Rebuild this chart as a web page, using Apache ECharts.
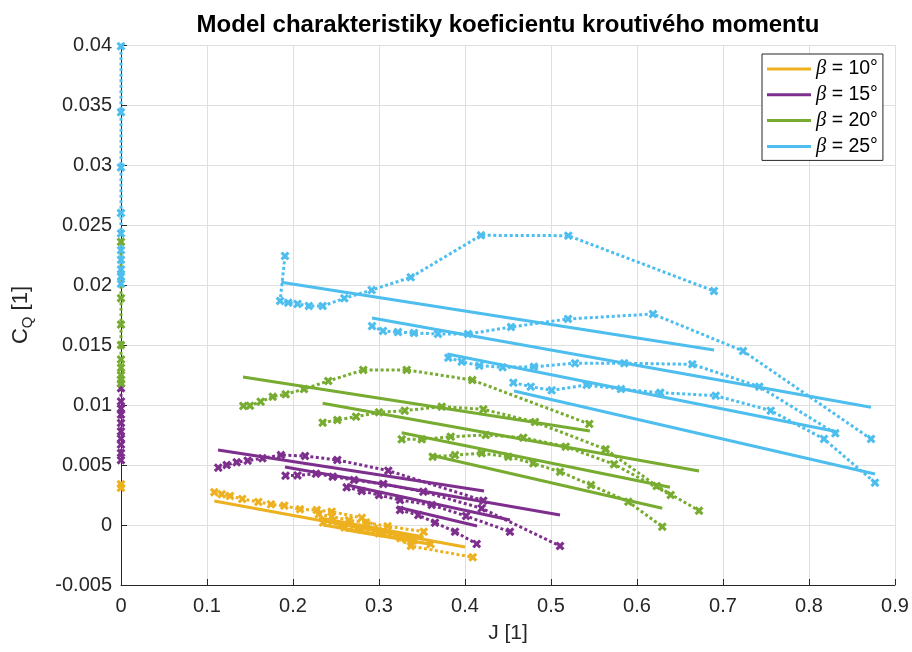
<!DOCTYPE html>
<html><head><meta charset="utf-8">
<script src="https://cdn.jsdelivr.net/npm/echarts@6/dist/echarts.min.js"></script>
<style>html,body{margin:0;padding:0;background:#fff}#c{width:912px;height:652px}</style>
</head><body><div id="c"></div>
<script>
const chartTitle = 'Model charakteristiky koeficientu kroutivého momentu';
const betaLabels = ['β = 10°', 'β = 15°', 'β = 20°', 'β = 25°'];
const betaColors = ['#EDB120', '#7E2F8E', '#77AC30', '#4DBEEE'];
const xTickValues = [0, 0.1, 0.2, 0.3, 0.4, 0.5, 0.6, 0.7, 0.8, 0.9];
const yTickValues = [-0.005, 0, 0.005, 0.01, 0.015, 0.02, 0.025, 0.03, 0.035, 0.04];

// static points (J = 0)
const static10 = [0.0034, 0.0031];
const static15 = [0.0114, 0.0103, 0.0097, 0.0092, 0.0085, 0.0078, 0.0072, 0.0067, 0.0060, 0.0054];
const static20 = [0.0236, 0.0189, 0.0167, 0.0150, 0.0138, 0.0131, 0.0125, 0.0121, 0.0118];
const static25 = [0.0399, 0.0344, 0.0298, 0.0260, 0.0243, 0.0229, 0.0221, 0.0213, 0.0207, 0.0201];

// beta = 10 measurements [J, CQ]
const m10a = [[0.1085,0.00273],[0.1171,0.00256],[0.1267,0.00242],[0.1410,0.00217],[0.1597,0.00192],[0.1744,0.00172],[0.1899,0.00161],[0.2081,0.00131],[0.2276,0.00125],[0.2450,0.00111],[0.2800,0.00060],[0.3370,-0.00175],[0.4090,-0.00269]];
const m10b = [[0.2300,0.00090],[0.2450,0.00070],[0.2650,0.00040],[0.2850,0.00020],[0.3100,-0.00010],[0.3520,-0.00056]];
const m10c = [[0.2350,0.00020],[0.2550,0.00000],[0.2750,-0.00020],[0.3000,-0.00060],[0.3400,-0.00130]];
const m10d = [[0.2600,-0.00020],[0.2800,-0.00040],[0.3000,-0.00070],[0.3250,-0.00110],[0.3600,-0.00160]];
// beta = 10 fits
const f10a = [[0.1085,0.00200],[0.4000,-0.00183]];
const f10b = [[0.2300,0.00060],[0.3520,-0.00100]];
const f10c = [[0.2350,0.00000],[0.3400,-0.00130]];
const f10d = [[0.2600,-0.00040],[0.3600,-0.00160]];

// beta = 15 measurements
const m15a = [[0.1131,0.00478],[0.1229,0.00500],[0.1345,0.00523],[0.1473,0.00536],[0.1645,0.00556],[0.1860,0.00583],[0.2140,0.00575],[0.2515,0.00542],[0.3108,0.00453],[0.4213,0.00203]];
const m15b = [[0.1913,0.00411],[0.2052,0.00413],[0.2267,0.00428],[0.2462,0.00403],[0.2709,0.00375],[0.3050,0.00342],[0.3515,0.00278],[0.4194,0.00139],[0.5105,-0.00175]];
const m15c = [[0.2624,0.00314],[0.2799,0.00283],[0.3000,0.00250],[0.3244,0.00208],[0.3613,0.00167],[0.4012,0.00075],[0.4523,-0.00056]];
const m15d = [[0.3244,0.00125],[0.3457,0.00083],[0.3651,0.00019],[0.3884,-0.00056],[0.4136,-0.00158]];
const f15a = [[0.1128,0.00625],[0.4221,0.00283]];
const f15b = [[0.1907,0.00483],[0.5105,0.00083]];
const f15c = [[0.2628,0.00333],[0.4523,0.00042]];
const f15d = [[0.3209,0.00150],[0.4140,-0.00008]];

// beta = 20 measurements
const m20a = [[0.1422,0.00992],[0.1500,0.00994],[0.1624,0.01028],[0.1764,0.01069],[0.1915,0.01089],[0.2128,0.01133],[0.2410,0.01200],[0.2817,0.01292],[0.3322,0.01292],[0.4085,0.01208],[0.5445,0.00842]];
const m20b = [[0.2345,0.00853],[0.2515,0.00875],[0.2733,0.00903],[0.3000,0.00939],[0.3299,0.00953],[0.3729,0.00986],[0.4213,0.00964],[0.4814,0.00858],[0.5636,0.00631],[0.6229,0.00325],[0.6721,0.00119]];
const m20c = [[0.3264,0.00714],[0.3497,0.00714],[0.3834,0.00736],[0.4241,0.00750],[0.4678,0.00728],[0.5171,0.00653],[0.5733,0.00506],[0.6392,0.00250]];
const m20d = [[0.3624,0.00569],[0.3884,0.00583],[0.4194,0.00598],[0.4503,0.00569],[0.4794,0.00514],[0.5105,0.00444],[0.5465,0.00333],[0.5899,0.00194],[0.6294,-0.00014]];
const f20a = [[0.1419,0.01233],[0.5453,0.00783]];
const f20b = [[0.2345,0.01014],[0.6721,0.00450]];
const f20c = [[0.3264,0.00769],[0.6384,0.00314]];
const f20d = [[0.3593,0.00583],[0.6294,0.00139]];

// beta = 25 measurements
const m25a = [[0.1907,0.02242],[0.1850,0.01867],[0.1945,0.01853],[0.2053,0.01842],[0.2185,0.01825],[0.2345,0.01825],[0.2597,0.01889],[0.2915,0.01958],[0.3369,0.02064],[0.4186,0.02414],[0.5201,0.02411],[0.6895,0.01950]];
const m25b = [[0.2919,0.01658],[0.3047,0.01617],[0.3221,0.01608],[0.3407,0.01600],[0.3686,0.01592],[0.4035,0.01592],[0.4535,0.01650],[0.5198,0.01717],[0.6186,0.01758],[0.7233,0.01450],[0.8721,0.00717]];
const m25c = [[0.3806,0.01394],[0.3962,0.01361],[0.4166,0.01328],[0.4438,0.01314],[0.4802,0.01319],[0.5279,0.01348],[0.5852,0.01348],[0.6643,0.01339],[0.7422,0.01153],[0.8306,0.00764]];
const m25d = [[0.4562,0.01186],[0.4764,0.01153],[0.5008,0.01122],[0.5415,0.01167],[0.5814,0.01133],[0.6271,0.01103],[0.6915,0.01078],[0.7555,0.00953],[0.8174,0.00717],[0.8767,0.00353]];
const f25a = [[0.1863,0.02023],[0.6895,0.01458]];
const f25b = [[0.2919,0.01725],[0.8721,0.00981]];
const f25c = [[0.3794,0.01425],[0.8341,0.00775]];
const f25d = [[0.4570,0.01117],[0.8767,0.00425]];

const groups = [
  {st: static10, meas: [m10a, m10b, m10c, m10d], fits: [f10a, f10b, f10c, f10d]},
  {st: static15, meas: [m15a, m15b, m15c, m15d], fits: [f15a, f15b, f15c, f15d]},
  {st: static20, meas: [m20a, m20b, m20c, m20d], fits: [f20a, f20b, f20c, f20d]},
  {st: static25, meas: [m25a, m25b, m25c, m25d], fits: [f25a, f25b, f25c, f25d]}
];

const xMark = 'path://M0,2.4L2.4,0L5,2.6L7.6,0L10,2.4L7.4,5L10,7.6L7.6,10L5,7.4L2.4,10L0,7.6L2.6,5Z';
const dotted = {width: 3, type: [3, 2.5]};
const series = [];
let k = 0;
groups.forEach((g, i) => {
  const col = betaColors[i];
  g.meas.forEach(m => {
    series.push({type: 'line', name: 'meas' + (k++), data: m, symbol: xMark, symbolSize: 9,
      showSymbol: true, itemStyle: {color: col}, lineStyle: Object.assign({color: col}, dotted),
      animation: false, silent: true, z: 2});
  });
  g.fits.forEach(f => {
    series.push({type: 'line', name: betaLabels[i], data: f, symbol: 'none', showSymbol: false,
      itemStyle: {color: col}, lineStyle: {color: col, width: 3}, animation: false, silent: true, z: 3});
  });
});
groups.forEach((g, i) => {
  const col = betaColors[i];
  series.push({type: 'line', name: 'static' + i, data: g.st.map(v => [0, v]), symbol: xMark, symbolSize: 9,
    itemStyle: {color: col}, lineStyle: Object.assign({color: col}, dotted),
    animation: false, silent: true, z: 4});
});

const fmt = v => String(+v.toFixed(4));
const chart = echarts.init(document.getElementById('c'), null, {renderer: 'canvas'});
chart.setOption({
  backgroundColor: '#ffffff',
  animation: false,
  title: {text: chartTitle, left: 503, top: 8, textAlign: 'center',
    textStyle: {fontFamily: 'Liberation Sans', fontWeight: 'bold', fontSize: 24, color: '#000'}},
  grid: {left: 121, right: 17, top: 45, bottom: 67, containLabel: false},
  legend: {
    data: betaLabels, orient: 'vertical', left: 762, top: 54, padding: [5, 5, 4, 5], itemGap: 5.8,
    itemWidth: 44, itemHeight: 3, icon: 'rect', borderColor: '#262626', borderWidth: 1,
    backgroundColor: '#fff', selectedMode: false,
    formatter: n => '{b|β}{t|' + n.slice(1) + '}',
    textStyle: {color: '#000', fontFamily: 'Liberation Sans', fontSize: 19.5, lineHeight: 20,
      rich: {b: {fontFamily: 'Liberation Serif', fontStyle: 'italic', fontSize: 20.5, lineHeight: 20, color: '#000'},
             t: {fontFamily: 'Liberation Sans', fontSize: 19.5, lineHeight: 20, color: '#000'}}}
  },
  xAxis: {type: 'value', min: 0, max: 0.9, interval: 0.1,
    name: 'J [1]', nameLocation: 'middle', nameGap: 38,
    nameTextStyle: {fontFamily: 'Liberation Sans', fontSize: 21, color: '#262626'},
    axisLine: {onZero: false, lineStyle: {color: '#262626', width: 1}},
    axisTick: {inside: true, length: 6, lineStyle: {color: '#262626'}},
    axisLabel: {formatter: fmt, fontFamily: 'Liberation Sans', fontSize: 20, color: '#262626', margin: 11},
    splitLine: {show: true, lineStyle: {color: '#dfdfdf', width: 1}}},
  yAxis: {type: 'value', min: -0.005, max: 0.04, interval: 0.005,
    name: '{c|C}{q|Q}{c| [1]}', nameLocation: 'middle', nameGap: 86, nameRotate: 90,
    nameTextStyle: {rich: {c: {fontFamily: 'Liberation Sans', fontSize: 22, lineHeight: 28, color: '#262626'},
      q: {fontFamily: 'Liberation Sans', fontSize: 15, lineHeight: 15, verticalAlign: 'bottom', color: '#262626'}}},
    axisLine: {show: true, onZero: false, lineStyle: {color: '#262626', width: 1}},
    axisTick: {show: true, inside: true, length: 6, lineStyle: {color: '#262626'}},
    axisLabel: {formatter: fmt, fontFamily: 'Liberation Sans', fontSize: 20, color: '#262626', margin: 9},
    splitLine: {show: true, lineStyle: {color: '#dfdfdf', width: 1}}},
  series: series
});
</script></body></html>
